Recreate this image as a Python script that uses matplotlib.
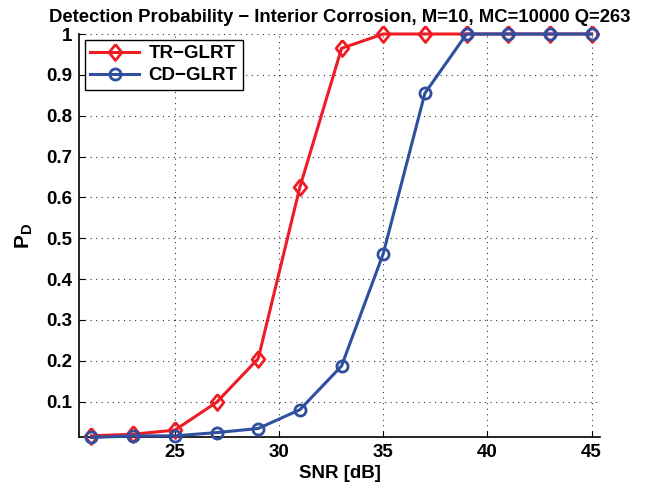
import matplotlib
matplotlib.use("Agg")
import matplotlib.pyplot as plt
import numpy as np

plt.rcParams['font.family'] = ['Liberation Sans', 'DejaVu Sans']
plt.rcParams['font.weight'] = 'bold'
plt.rcParams['mathtext.fontset'] = 'custom'
plt.rcParams['mathtext.rm'] = 'Liberation Sans:bold'
plt.rcParams['mathtext.bf'] = 'Liberation Sans:bold'

# data
snr = [21, 23, 25, 27, 29, 31, 33, 35, 37, 39, 41, 43, 45]
pd_tr = [0.016, 0.020, 0.030, 0.098, 0.205, 0.625, 0.965, 1, 1, 1, 1, 1, 1]
pd_cd = [0.012, 0.016, 0.016, 0.024, 0.034, 0.080, 0.187, 0.462, 0.855, 1, 1, 1, 1]
xticks = [25, 30, 35, 40, 45]
yticks = [0.1, 0.2, 0.3, 0.4, 0.5, 0.6, 0.7, 0.8, 0.9, 1]

red = "#ee1c25"
blue = "#2f4f9f"

# MATLAB-style diamond, a bit taller than wide
diamond = [(0, 1), (0.8, 0), (0, -1), (-0.8, 0), (0, 1)]

fig = plt.figure(figsize=(6.5, 4.9), dpi=100)
ax = fig.add_axes([0.1215, 0.108, 0.8015, 0.8226])

ax.plot(snr, pd_tr, color=red, lw=2.2, marker=diamond, ms=11.5, mfc='none', mec=red, mew=2,
        label='TR\u2212GLRT', clip_on=False, zorder=3)
ax.plot(snr, pd_cd, color=blue, lw=2.2, marker='o', ms=8, mfc='none', mec=blue, mew=2,
        label='CD\u2212GLRT', clip_on=False, zorder=3)

ax.set_xlim(20.4, 45.4)
ax.set_ylim(0.013, 1.0)
ax.set_xticks(xticks)
ax.set_yticks(yticks)
ax.set_yticklabels([f"{v:g}" for v in yticks])
ax.tick_params(direction='in', labelsize=13.5, length=4, width=0.8, pad=5)
ax.spines['top'].set_visible(False)
ax.spines['right'].set_visible(False)
ax.spines['left'].set_linewidth(1.2)
ax.spines['bottom'].set_linewidth(1.2)
ax.grid(True, ls=(0, (1, 4)), color='black', lw=0.8, alpha=0.8)

ax.set_xlabel('SNR [dB]', fontsize=13.5, fontweight='bold', labelpad=3)
ax.set_ylabel(r'$\mathbf{P_D}$', fontsize=15, labelpad=8)
ax.set_title('Detection Probability \u2212 Interior Corrosion, M=10, MC=10000 Q=263',
             fontsize=13.3, fontweight='bold', pad=9)

leg = ax.legend(loc='upper left', fontsize=13.5, fancybox=False, framealpha=1,
                edgecolor='black', borderaxespad=0.3, handlelength=2.6,
                borderpad=0.3, labelspacing=0.25, handletextpad=0.5)
leg.get_frame().set_linewidth(1.0)

fig.savefig('out.png', dpi=100)
